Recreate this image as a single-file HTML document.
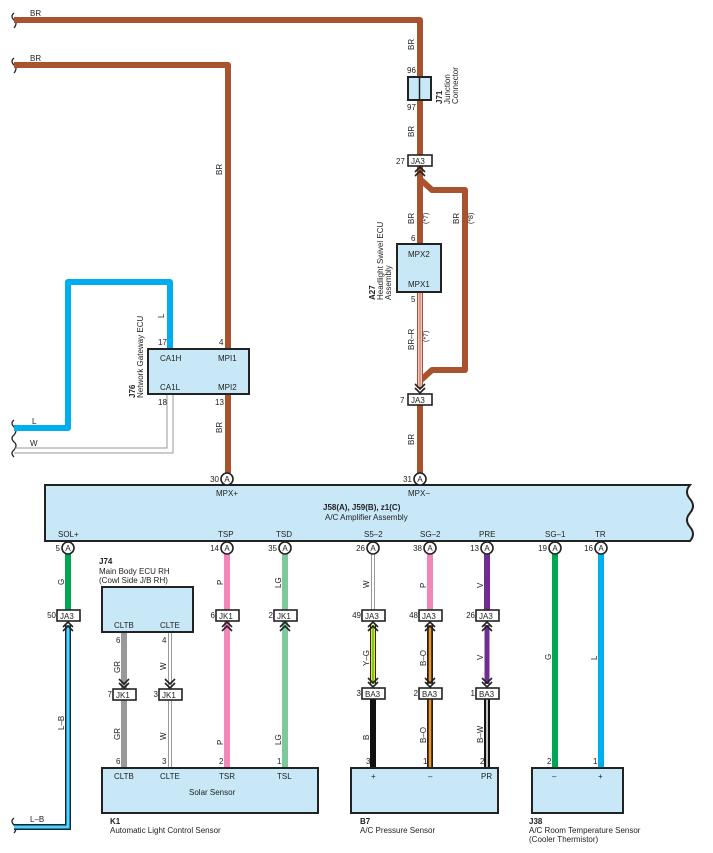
<!DOCTYPE html>
<html><head><meta charset="utf-8"><style>
html,body{margin:0;padding:0;background:#fff}
svg{display:block;font-family:"Liberation Sans",sans-serif}
text{font-size:8px;fill:#222}
.b{font-weight:bold}
.box{fill:#c8e8f8;stroke:#222;stroke-width:2}
.cn{fill:#fff;stroke:#222;stroke-width:1.6}
</style></head><body>
<svg width="713" height="853" viewBox="0 0 713 853" xmlns="http://www.w3.org/2000/svg">
<defs>
<g id="ch"><path d="M-5,6 L0,1 L5,6 M-5,10 L0,5 L5,10" fill="none" stroke="#222" stroke-width="1.6"/></g>
<g id="cv"><path d="M-5,-6 L0,-1 L5,-6 M-5,-10 L0,-5 L5,-10" fill="none" stroke="#222" stroke-width="1.6"/></g>
</defs>
<g fill="none" stroke="#222" stroke-width="1.3">
<path d="M14,13 q-4,3 0,7 q4,3 0,8"/>
<path d="M14,58 q-4,3 0,7 q4,3 0,8"/>
<path d="M14,420 q-4,3 0,7 q4,3 0,8 q-4,3 0,7 q4,3 0,8 q-4,3 0,7"/>
<path d="M14,818 q-4,3 0,7 q4,3 0,8"/>
</g>
<!-- BR wires -->
<g fill="none" stroke="#a8532e" stroke-width="6" stroke-linejoin="round">
<path d="M14,20 H420 V155"/>
<path d="M14,65 H228 V473"/>
<path d="M420,166 V244"/>
<path d="M421,180 L432,190 H465 V370 H432 L421,380"/>
<path d="M420,405 V473"/>
</g>
<path d="M420,292 V388" stroke="#a8532e" stroke-width="6"/>
<path d="M420,292 V388" stroke="#fff" stroke-width="3.4"/>
<path d="M420,292 V388" stroke="#c8282a" stroke-width="1"/>
<text x="30" y="16">BR</text><text x="30" y="61">BR</text>
<text transform="translate(414,50) rotate(-90)">BR</text>
<text transform="translate(222,175) rotate(-90)">BR</text>
<text transform="translate(222,433) rotate(-90)">BR</text>
<text transform="translate(414,137) rotate(-90)">BR</text>
<text transform="translate(414,224) rotate(-90)">BR</text>
<text transform="translate(428,224) rotate(-90)" style="font-size:7px">(*7)</text>
<text transform="translate(459,224) rotate(-90)">BR</text>
<text transform="translate(473,224) rotate(-90)" style="font-size:7px">(*8)</text>
<text transform="translate(414,350) rotate(-90)">BR–R</text>
<text transform="translate(428,342) rotate(-90)" style="font-size:7px">(*7)</text>
<text transform="translate(414,445) rotate(-90)">BR</text>
<!-- J71 -->
<rect x="408" y="77" width="23" height="23" class="box"/><line x1="419.5" y1="77" x2="419.5" y2="100" stroke="#222" stroke-width="1.5"/>
<text x="407" y="73">96</text><text x="407" y="110">97</text>
<text transform="translate(442,104) rotate(-90)" class="b">J71</text>
<text transform="translate(450,104) rotate(-90)">Junction</text>
<text transform="translate(458,104) rotate(-90)">Connector</text>
<!-- JA3 27 -->
<rect x="408" y="155" width="24" height="11" class="cn"/><text x="411" y="164">JA3</text><text x="396" y="164">27</text>
<use href="#ch" x="420" y="166"/>
<!-- A27 -->
<rect x="397" y="244" width="44" height="48" class="box"/>
<text x="408" y="257">MPX2</text><text x="408" y="287">MPX1</text>
<text x="411" y="241">6</text><text x="411" y="302">5</text>
<text transform="translate(375,300) rotate(-90)" class="b">A27</text>
<text transform="translate(383,300) rotate(-90)">Headlight Swivel ECU</text>
<text transform="translate(391,300) rotate(-90)">Assembly</text>
<use href="#cv" x="420" y="394"/>
<rect x="408" y="394" width="24" height="11" class="cn"/><text x="411" y="403">JA3</text><text x="400" y="403">7</text>
<!-- L & W -->
<path d="M14,428 H68 V282 H170 V349" fill="none" stroke="#00aeef" stroke-width="6" stroke-linejoin="round"/>
<path d="M14,448 H167 V395 M14,453 H173 V395" fill="none" stroke="#999" stroke-width="1"/>
<text x="32" y="424">L</text><text x="30" y="446">W</text>
<text transform="translate(164,318) rotate(-90)">L</text>
<!-- J76 -->
<rect x="148" y="349" width="101" height="45" class="box"/>
<text x="160" y="361">CA1H</text><text x="218" y="361">MPI1</text>
<text x="160" y="390">CA1L</text><text x="218" y="390">MPI2</text>
<text x="158" y="345">17</text><text x="219" y="345">4</text>
<text x="158" y="405">18</text><text x="215" y="405">13</text>
<text transform="translate(135,398) rotate(-90)" class="b">J76</text>
<text transform="translate(143,398) rotate(-90)">Network Gateway ECU</text>
<!-- Amplifier -->
<path d="M45,485 H690 q-6,7 0,14 q6,7 0,14 q-6,7 0,14 q6,7 0,14 H45 Z" class="box"/>
<text x="216" y="496">MPX+</text><text x="408" y="496">MPX−</text>
<text x="323" y="510" class="b">J58(A), J59(B), z1(C)</text>
<text x="325" y="520">A/C Amplifier Assembly</text>
<g>
<text x="58" y="537">SOL+</text><text x="218" y="537">TSP</text><text x="276" y="537">TSD</text>
<text x="364" y="537">S5–2</text><text x="420" y="537">SG–2</text><text x="479" y="537">PRE</text>
<text x="545" y="537">SG–1</text><text x="595" y="537">TR</text>
</g>
<!-- lower wires -->
<g stroke-width="6" fill="none">
<path d="M68,554 V610" stroke="#00a651"/>
<path d="M227,554 V610 M227,621 V768" stroke="#f287b7"/>
<path d="M285,554 V610 M285,621 V768" stroke="#7ec99a"/>
<path d="M430,554 V610" stroke="#f287b7"/>
<path d="M487,554 V610" stroke="#6f2c91"/>
<path d="M487,625 V684" stroke="#6f2c91" stroke-width="5"/>
<path d="M555,554 V768" stroke="#00a651"/>
<path d="M601,554 V768" stroke="#00aeef"/>
<path d="M124,632 V689 M124,700 V768" stroke="#999"/>
<path d="M373,699 V768" stroke="#111"/>
</g>
<path d="M68,625 V827 H14" fill="none" stroke="#222" stroke-width="6"/>
<path d="M68,625 V827 H14" fill="none" stroke="#00aeef" stroke-width="3.6"/>
<path d="M68,625 V827 H14" fill="none" stroke="#fff" stroke-width="0.8"/>
<path d="M170,632 V689 M170,700 V768 M373,554 V610" fill="none" stroke="#999" stroke-width="4"/>
<path d="M170,632 V689 M170,700 V768 M373,554 V610" fill="none" stroke="#fff" stroke-width="2"/>
<path d="M373,625 V684" stroke="#222" stroke-width="6"/><path d="M373,625 V684" stroke="#f5e900" stroke-width="4"/><path d="M373,625 V684" stroke="#00a651" stroke-width="1"/>
<path d="M430,625 V684 M430,699 V768" stroke="#222" stroke-width="6"/><path d="M430,625 V684 M430,699 V768" stroke="#f7941d" stroke-width="2.5"/>
<path d="M487,699 V768" stroke="#111" stroke-width="6"/><path d="M487,699 V768" stroke="#fff" stroke-width="1.5"/>
<!-- pins circles -->
<g fill="#fff" stroke="#222" stroke-width="1.6">
<circle cx="227" cy="479" r="6"/><circle cx="420" cy="479" r="6"/>
<circle cx="68" cy="548" r="6"/><circle cx="227" cy="548" r="6"/><circle cx="285" cy="548" r="6"/><circle cx="373" cy="548" r="6"/><circle cx="430" cy="548" r="6"/><circle cx="487" cy="548" r="6"/><circle cx="555" cy="548" r="6"/><circle cx="601" cy="548" r="6"/>
</g>
<g style="font-size:7px" text-anchor="middle">
<text x="227" y="482">A</text><text x="420" y="482">A</text>
<text x="68" y="551">A</text><text x="227" y="551">A</text><text x="285" y="551">A</text><text x="373" y="551">A</text><text x="430" y="551">A</text><text x="487" y="551">A</text><text x="555" y="551">A</text><text x="601" y="551">A</text>
</g>
<g text-anchor="end">
<text x="219" y="482">30</text><text x="412" y="482">31</text>
<text x="60" y="551">5</text><text x="219" y="551">14</text><text x="277" y="551">35</text><text x="365" y="551">26</text><text x="422" y="551">38</text><text x="479" y="551">13</text><text x="547" y="551">19</text><text x="593" y="551">16</text>
<text x="56" y="618">50</text><text x="215" y="618">6</text><text x="273" y="618">2</text><text x="361" y="618">49</text><text x="418" y="618">48</text><text x="475" y="618">26</text>
<text x="112" y="697">7</text><text x="158" y="697">3</text><text x="361" y="696">3</text><text x="418" y="696">2</text><text x="475" y="696">1</text>
</g>
<!-- connector boxes -->
<g>
<rect x="57" y="610" width="23" height="11" class="cn"/><text x="60" y="619">JA3</text><use href="#ch" x="68" y="621"/>
<rect x="216" y="610" width="23" height="11" class="cn"/><text x="219" y="619">JK1</text><use href="#ch" x="227" y="621"/>
<rect x="274" y="610" width="23" height="11" class="cn"/><text x="277" y="619">JK1</text><use href="#ch" x="285" y="621"/>
<rect x="362" y="610" width="23" height="11" class="cn"/><text x="365" y="619">JA3</text><use href="#ch" x="373" y="621"/>
<rect x="419" y="610" width="23" height="11" class="cn"/><text x="422" y="619">JA3</text><use href="#ch" x="430" y="621"/>
<rect x="476" y="610" width="23" height="11" class="cn"/><text x="479" y="619">JA3</text><use href="#ch" x="487" y="621"/>
<rect x="113" y="689" width="23" height="11" class="cn"/><text x="116" y="698">JK1</text><use href="#cv" x="124" y="689"/>
<rect x="159" y="689" width="23" height="11" class="cn"/><text x="162" y="698">JK1</text><use href="#cv" x="170" y="689"/>
<rect x="362" y="688" width="23" height="11" class="cn"/><text x="365" y="697">BA3</text><use href="#cv" x="373" y="688"/>
<rect x="419" y="688" width="23" height="11" class="cn"/><text x="422" y="697">BA3</text><use href="#cv" x="430" y="688"/>
<rect x="476" y="688" width="23" height="11" class="cn"/><text x="479" y="697">BA3</text><use href="#cv" x="487" y="688"/>
</g>
<!-- wire labels -->
<text transform="translate(64,585) rotate(-90)">G</text>
<text transform="translate(64,730) rotate(-90)">L–B</text>
<text x="30" y="822">L–B</text>
<text transform="translate(223,585) rotate(-90)">P</text>
<text transform="translate(281,588) rotate(-90)">LG</text>
<text transform="translate(223,745) rotate(-90)">P</text>
<text transform="translate(281,745) rotate(-90)">LG</text>
<text transform="translate(120,673) rotate(-90)">GR</text>
<text transform="translate(120,740) rotate(-90)">GR</text>
<text transform="translate(166,670) rotate(-90)">W</text>
<text transform="translate(166,740) rotate(-90)">W</text>
<text transform="translate(369,588) rotate(-90)">W</text>
<text transform="translate(369,666) rotate(-90)">Y–G</text>
<text transform="translate(369,740) rotate(-90)">B</text>
<text transform="translate(426,588) rotate(-90)">P</text>
<text transform="translate(426,666) rotate(-90)">B–O</text>
<text transform="translate(426,743) rotate(-90)">B–O</text>
<text transform="translate(483,588) rotate(-90)">V</text>
<text transform="translate(483,660) rotate(-90)">V</text>
<text transform="translate(483,743) rotate(-90)">B–W</text>
<text transform="translate(551,660) rotate(-90)">G</text>
<text transform="translate(597,660) rotate(-90)">L</text>
<!-- J74 -->
<text x="99" y="564" class="b">J74</text>
<text x="99" y="574">Main Body ECU RH</text><text x="99" y="583">(Cowl Side J/B RH)</text>
<rect x="102" y="587" width="91" height="45" class="box"/>
<text x="114" y="628">CLTB</text><text x="160" y="628">CLTE</text>
<text x="116" y="643">6</text><text x="162" y="643">4</text>
<!-- K1 -->
<text x="116" y="764">6</text><text x="162" y="764">3</text><text x="219" y="764">2</text><text x="277" y="764">1</text>
<rect x="102" y="768" width="216" height="45" class="box"/>
<text x="114" y="779">CLTB</text><text x="160" y="779">CLTE</text><text x="219" y="779">TSR</text><text x="277" y="779">TSL</text>
<text x="189" y="795">Solar Sensor</text>
<text x="110" y="824" class="b">K1</text><text x="110" y="833">Automatic Light Control Sensor</text>
<!-- B7 -->
<text x="366" y="764">3</text><text x="423" y="764">1</text><text x="480" y="764">2</text>
<rect x="351" y="768" width="147" height="45" class="box"/>
<text x="371" y="779">+</text><text x="428" y="779">–</text><text x="481" y="779">PR</text>
<text x="360" y="824" class="b">B7</text><text x="360" y="833">A/C Pressure Sensor</text>
<!-- J38 -->
<text x="547" y="764">2</text><text x="593" y="764">1</text>
<rect x="532" y="768" width="91" height="45" class="box"/>
<text x="552" y="779">–</text><text x="598" y="779">+</text>
<text x="529" y="824" class="b">J38</text><text x="529" y="833">A/C Room Temperature Sensor</text><text x="529" y="842">(Cooler Thermistor)</text>
</svg>
</body></html>
